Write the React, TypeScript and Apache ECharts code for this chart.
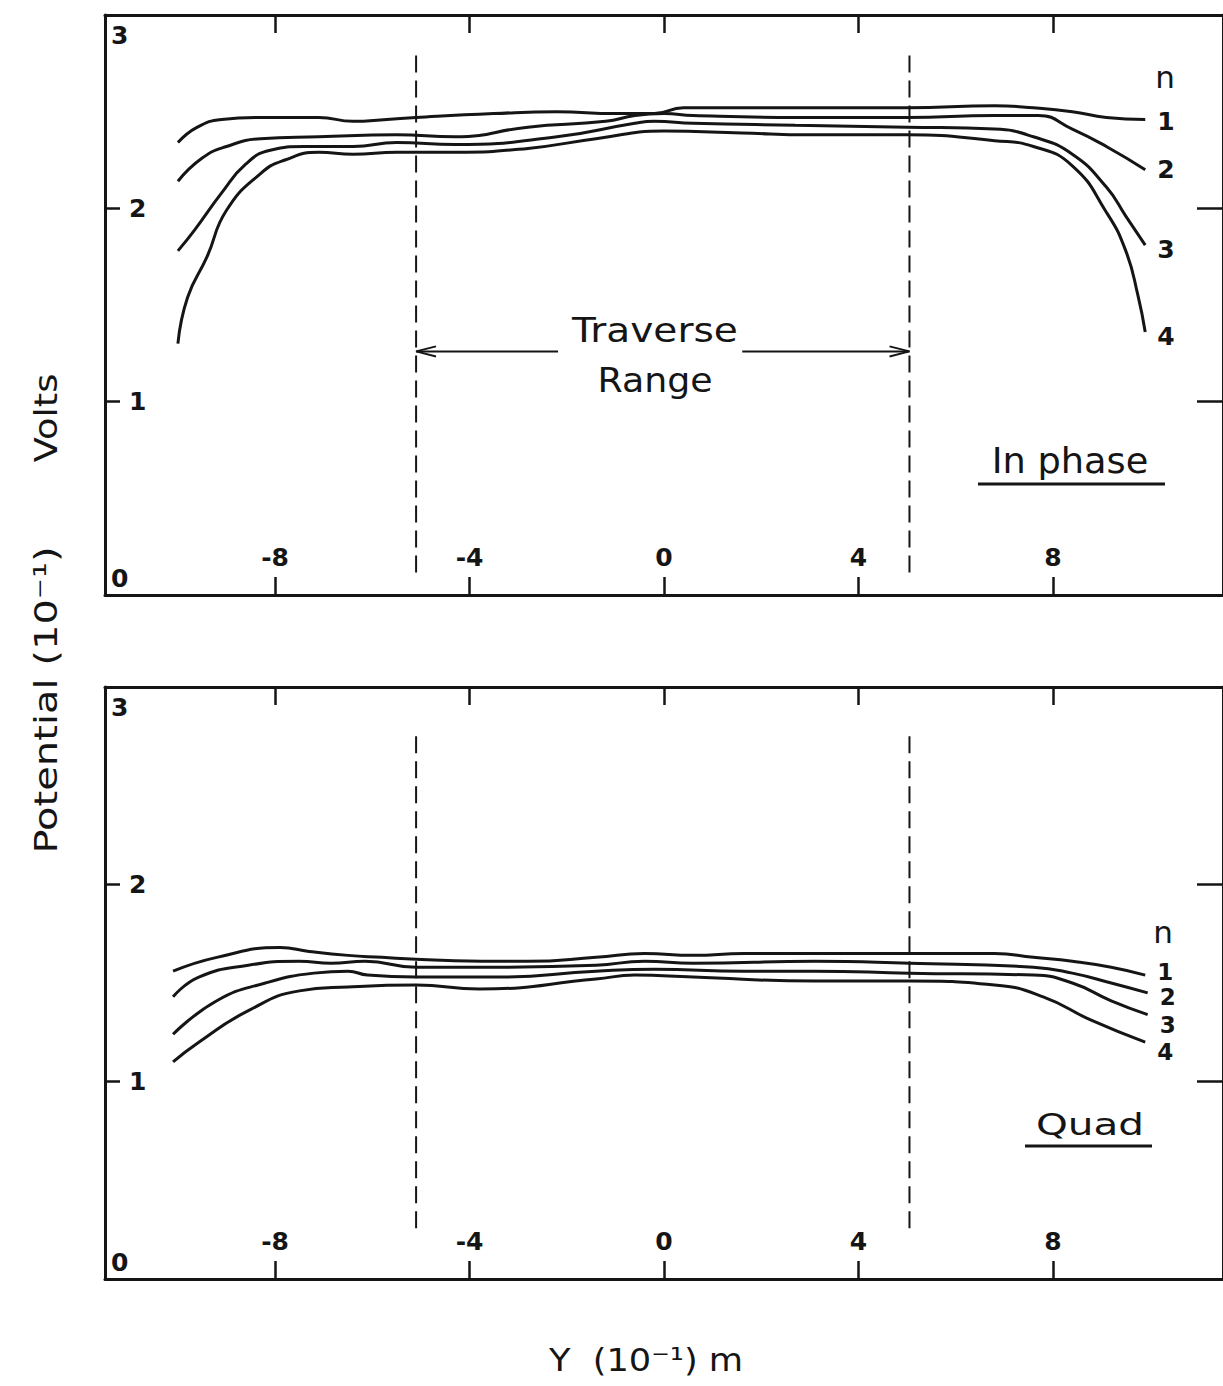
import React, { useEffect, useRef } from "react";
import * as echarts from "echarts";

// ---- axis description ----
const X_MIN = -11.5;
const X_MAX = 11.5;
const xTicks = [-8, -4, 0, 4, 8];
const yMin = 0;
const yMax = 3;
const yInterval = 1;
const curveNames = ["1", "2", "3", "4"];

// traverse range (dashed verticals) and arrow annotation, in data units
const traverseEdges = [-5.1, 5.05];
const inPhaseDash = [0.1, 2.79];
const quadDash = [0.24, 2.75];
const arrowLevel = 1.26;
const arrowInnerEnds = [-2.18, 1.61];

// ---- In phase curves (Y in 10^-1 m, potential in 10^-1 V) ----
const inPhaseN1 = [[-10, 2.34], [-9.6, 2.42], [-9.1, 2.46], [-8.4, 2.47], [-7.1, 2.47], [-6.4, 2.45], [-5.7, 2.46], [-5.1, 2.47], [-3.5, 2.49], [-2.2, 2.5], [-1, 2.49], [-0.2, 2.49], [0.4, 2.52], [1.6, 2.52], [3, 2.52], [5, 2.52], [6.8, 2.53], [7.6, 2.52], [8.4, 2.5], [9.1, 2.47], [9.9, 2.46]];
const inPhaseN2 = [[-10, 2.14], [-9.5, 2.26], [-9, 2.32], [-8.3, 2.36], [-7.1, 2.37], [-5.5, 2.38], [-4.3, 2.37], [-2.8, 2.42], [-1.2, 2.45], [-0.6, 2.48], [0, 2.49], [0.6, 2.48], [2.7, 2.47], [5, 2.47], [6.8, 2.48], [7.7, 2.48], [8.4, 2.41], [9.1, 2.32], [9.9, 2.2]];
const inPhaseN3 = [[-10, 1.78], [-9.65, 1.89], [-9.1, 2.08], [-8.6, 2.23], [-8.1, 2.3], [-7.4, 2.32], [-6.4, 2.32], [-5.5, 2.34], [-4.3, 2.33], [-2.2, 2.37], [-0.6, 2.44], [-0.2, 2.45], [0.6, 2.44], [2.7, 2.43], [5, 2.42], [6.8, 2.41], [7.6, 2.37], [8.4, 2.28], [9.1, 2.11], [9.5, 1.96], [9.9, 1.81]];
const inPhaseN4 = [[-10, 1.3], [-9.8, 1.54], [-9.4, 1.75], [-9.0, 1.99], [-8.3, 2.18], [-7.8, 2.25], [-7.1, 2.29], [-6.4, 2.28], [-5.5, 2.29], [-4.3, 2.29], [-2.8, 2.31], [-1.4, 2.36], [0, 2.4], [1.6, 2.39], [3, 2.38], [5, 2.38], [6.8, 2.35], [7.6, 2.32], [8.4, 2.22], [9.1, 1.98], [9.5, 1.78], [9.75, 1.55], [9.9, 1.36]];

// ---- Quad curves ----
const quadN1 = [[-10.1, 1.56], [-9.2, 1.63], [-7.9, 1.68], [-7.3, 1.66], [-6.5, 1.64], [-5.8, 1.63], [-5.1, 1.62], [-3.45, 1.61], [-2.8, 1.61], [-1.4, 1.63], [-0.4, 1.65], [0.6, 1.64], [1.65, 1.65], [3.1, 1.65], [5.05, 1.65], [6.8, 1.65], [7.6, 1.63], [8.4, 1.61], [9.2, 1.58], [9.9, 1.54]];
const quadN2 = [[-10.1, 1.43], [-9.57, 1.53], [-8.55, 1.59], [-7.5, 1.61], [-6.85, 1.6], [-6.15, 1.61], [-5.1, 1.58], [-3.45, 1.58], [-1.4, 1.59], [-0.4, 1.61], [0.6, 1.6], [3.1, 1.61], [5.05, 1.6], [7.6, 1.58], [8.4, 1.55], [9.2, 1.5], [9.95, 1.45]];
const quadN3 = [[-10.1, 1.24], [-9.2, 1.41], [-8.2, 1.5], [-7.2, 1.55], [-6.5, 1.56], [-6.1, 1.54], [-5.1, 1.53], [-3.45, 1.53], [-1.4, 1.56], [-0.2, 1.57], [1.65, 1.56], [3.1, 1.56], [5.05, 1.55], [7.6, 1.54], [8.4, 1.5], [9.2, 1.41], [9.95, 1.34]];
const quadN4 = [[-10.1, 1.1], [-9.57, 1.2], [-8.55, 1.36], [-7.5, 1.46], [-6.5, 1.48], [-5.1, 1.49], [-3.8, 1.47], [-1.4, 1.52], [-0.6, 1.54], [0.6, 1.53], [3.1, 1.51], [5.05, 1.51], [6.8, 1.49], [7.8, 1.43], [8.8, 1.31], [9.9, 1.2]];

const FONT = "'DejaVu Sans', 'Liberation Sans', sans-serif";
const INK = "#151515";
const TICK_FONT = 25;
const TICK_WEIGHT = "bold";

function yLabelFormatter(v: number) {
  if (v === yMax) return "{t|" + v + "}";
  if (v === yMin) return "{b|" + v + "}";
  return "{m|" + v + "}";
}

const tickText = { fontSize: TICK_FONT, fontFamily: FONT, fontWeight: TICK_WEIGHT, color: INK };

const yRich = {
  t: { padding: [40, 0, 0, 0], ...tickText },
  b: { padding: [0, 0, 34, 0], ...tickText },
  m: { padding: [0, 0, 0, 18], ...tickText },
};

function xAxesFor(gridIndex: number) {
  const base = {
    gridIndex,
    type: "value",
    min: X_MIN,
    max: X_MAX,
    splitLine: { show: false },
    axisLine: { show: true, onZero: false, lineStyle: { color: INK, width: 3 } },
  };
  return [
    {
      ...base,
      position: "bottom",
      axisTick: { show: true, inside: true, length: 18, customValues: xTicks, lineStyle: { color: INK, width: 2.5 } },
      axisLabel: { show: true, inside: true, margin: 25, customValues: xTicks, ...tickText },
    },
    {
      ...base,
      position: "top",
      axisTick: { show: true, inside: true, length: 18, customValues: xTicks, lineStyle: { color: INK, width: 2.5 } },
      axisLabel: { show: false },
    },
  ];
}

function yAxesFor(gridIndex: number) {
  const base = {
    gridIndex,
    type: "value",
    min: yMin,
    max: yMax,
    interval: yInterval,
    splitLine: { show: false },
    axisLine: { show: true, onZero: false, lineStyle: { color: INK, width: 3 } },
  };
  return [
    {
      ...base,
      position: "left",
      axisTick: { show: true, inside: true, length: 15, lineStyle: { color: INK, width: 2.5 } },
      axisLabel: {
        show: true,
        inside: true,
        margin: 6,
        showMinLabel: true,
        showMaxLabel: true,
        formatter: yLabelFormatter,
        rich: yRich,
        ...tickText,
      },
    },
    {
      ...base,
      position: "right",
      axisTick: { show: true, inside: true, length: 26, lineStyle: { color: INK, width: 2.5 } },
      axisLabel: { show: false },
    },
  ];
}

function curve(name: string, data: number[][], axisIndex: number, fontSize: number, offset: number[]) {
  return {
    type: "line",
    name,
    data,
    xAxisIndex: axisIndex,
    yAxisIndex: axisIndex,
    symbol: "none",
    showSymbol: false,
    smooth: 0.5,
    silent: true,
    z: 3,
    lineStyle: { color: INK, width: 3 },
    endLabel: {
      show: true,
      formatter: name,
      distance: 12,
      offset,
      fontSize,
      fontWeight: TICK_WEIGHT,
      fontFamily: FONT,
      color: INK,
    },
  };
}

function dashed(edge: number, range: number[], axisIndex: number) {
  return {
    type: "line",
    data: [[edge, range[1]], [edge, range[0]]],
    xAxisIndex: axisIndex,
    yAxisIndex: axisIndex,
    symbol: "none",
    showSymbol: false,
    silent: true,
    lineStyle: { color: INK, width: 2, type: [17, 8] },
  };
}

function plain(data: number[][], axisIndex: number) {
  return {
    type: "line",
    data,
    xAxisIndex: axisIndex,
    yAxisIndex: axisIndex,
    symbol: "none",
    showSymbol: false,
    silent: true,
    lineStyle: { color: INK, width: 2 },
  };
}

export default function App() {
  const ref = useRef<HTMLDivElement>(null);

  useEffect(() => {
    if (!ref.current) return;
    const chart = echarts.init(ref.current, null, { renderer: "svg" });

    const headDx = 0.41;
    const headDy = 0.026;
    const [leftEdge, rightEdge] = traverseEdges;

    const option = {
      animation: false,
      backgroundColor: "#ffffff",
      textStyle: { fontFamily: FONT },
      grid: [
        { left: 105, top: 15, width: 1127, height: 580, containLabel: false },
        { left: 105, top: 687, width: 1127, height: 592, containLabel: false },
      ],
      xAxis: [...xAxesFor(0), ...xAxesFor(1)],
      yAxis: [...yAxesFor(0), ...yAxesFor(1)],
      series: [
        // In phase panel uses axes 0 (bottom/left)
        curve(curveNames[0], inPhaseN1, 0, 25, [0, 2]),
        curve(curveNames[1], inPhaseN2, 0, 25, [0, 0]),
        curve(curveNames[2], inPhaseN3, 0, 25, [0, 4]),
        curve(curveNames[3], inPhaseN4, 0, 25, [0, 4]),
        dashed(leftEdge, inPhaseDash, 0),
        dashed(rightEdge, inPhaseDash, 0),
        plain([[leftEdge, arrowLevel], [arrowInnerEnds[0], arrowLevel]], 0),
        plain([[arrowInnerEnds[1], arrowLevel], [rightEdge, arrowLevel]], 0),
        plain([[leftEdge + headDx, arrowLevel + headDy], [leftEdge, arrowLevel], [leftEdge + headDx, arrowLevel - headDy]], 0),
        plain([[rightEdge - headDx, arrowLevel + headDy], [rightEdge, arrowLevel], [rightEdge - headDx, arrowLevel - headDy]], 0),
        // Quad panel uses axes 2
        curve(curveNames[0], quadN1, 2, 23, [0, -3]),
        curve(curveNames[1], quadN2, 2, 23, [0, 4]),
        curve(curveNames[2], quadN3, 2, 23, [0, 10]),
        curve(curveNames[3], quadN4, 2, 23, [0, 10]),
        dashed(leftEdge, quadDash, 2),
        dashed(rightEdge, quadDash, 2),
      ],
      graphic: [
        { type: "text", x: 655, y: 330, scaleX: 1.15, style: { text: "Traverse", fontSize: 34, fontFamily: FONT, fill: INK, align: "center", verticalAlign: "middle" } },
        { type: "text", x: 655, y: 381, scaleX: 1.1, style: { text: "Range", fontSize: 33, fontFamily: FONT, fill: INK, align: "center", verticalAlign: "middle" } },
        { type: "text", x: 1165, y: 77, style: { text: "n", fontSize: 31, fontFamily: FONT, fill: INK, align: "center", verticalAlign: "middle" } },
        { type: "text", x: 1070, y: 461, scaleX: 1.05, style: { text: "In phase", fontSize: 35, fontFamily: FONT, fill: INK, align: "center", verticalAlign: "middle" } },
        { type: "line", shape: { x1: 978, y1: 484, x2: 1165, y2: 484 }, style: { stroke: INK, lineWidth: 3 } },
        { type: "text", x: 1163, y: 932, style: { text: "n", fontSize: 31, fontFamily: FONT, fill: INK, align: "center", verticalAlign: "middle" } },
        { type: "text", x: 1090, y: 1124, scaleX: 1.35, style: { text: "Quad", fontSize: 30, fontFamily: FONT, fill: INK, align: "center", verticalAlign: "middle" } },
        { type: "line", shape: { x1: 1025, y1: 1146, x2: 1152, y2: 1146 }, style: { stroke: INK, lineWidth: 3 } },
        { type: "text", x: 46, y: 418, rotation: Math.PI / 2, scaleX: 1.15, style: { text: "Volts", fontSize: 32, fontFamily: FONT, fill: INK, align: "center", verticalAlign: "middle" } },
        { type: "text", x: 46, y: 700, rotation: Math.PI / 2, scaleX: 1.25, style: { text: "Potential (10⁻¹)", fontSize: 32, fontFamily: FONT, fill: INK, align: "center", verticalAlign: "middle" } },
        { type: "text", x: 646, y: 1360, scaleX: 1.1, style: { text: "Y  (10⁻¹) m", fontSize: 32, fontFamily: FONT, fill: INK, align: "center", verticalAlign: "middle" } },
      ],
    };

    chart.setOption(option as any);
    return () => chart.dispose();
  }, []);

  return (
    <div
      ref={ref}
      style={{ position: "absolute", left: 0, top: 0, width: 1223, height: 1386, background: "#fff" }}
    />
  );
}
